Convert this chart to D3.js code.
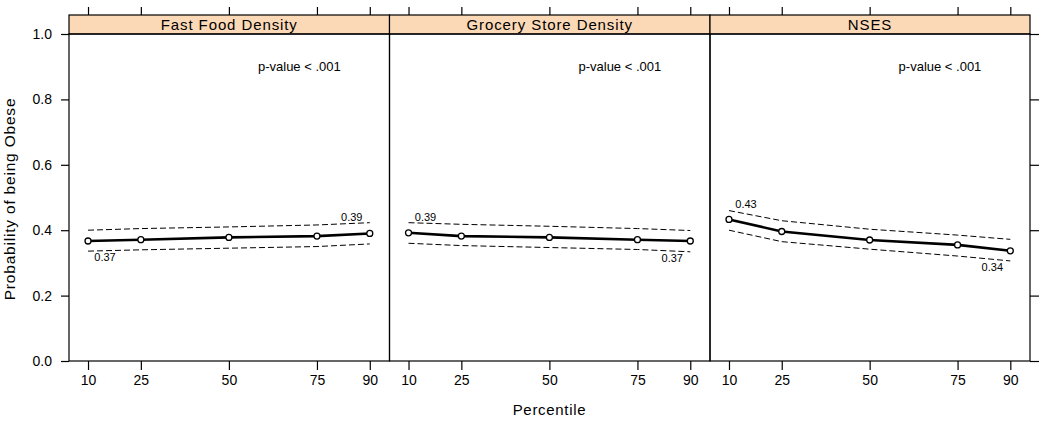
<!DOCTYPE html>
<html><head><meta charset="utf-8">
<script src="https://cdn.jsdelivr.net/npm/d3@7"></script>
<style>body{margin:0;background:#fff}svg{display:block;font-family:"Liberation Sans",Arial,sans-serif}</style>
</head><body>
<svg id="c" width="1050" height="422"></svg>
<script>
const panelNames = ["Fast Food Density", "Grocery Store Density", "NSES"];
const percentiles = [10, 25, 50, 75, 90];
const fastFoodFit   = [0.367, 0.371, 0.378, 0.382, 0.390];
const fastFoodUpper = [0.400, 0.405, 0.410, 0.416, 0.423];
const fastFoodLower = [0.336, 0.340, 0.345, 0.350, 0.358];
const groceryFit    = [0.392, 0.382, 0.378, 0.371, 0.367];
const groceryUpper  = [0.423, 0.418, 0.412, 0.405, 0.399];
const groceryLower  = [0.360, 0.353, 0.347, 0.341, 0.334];
const nsesFit       = [0.433, 0.396, 0.370, 0.355, 0.337];
const nsesUpper     = [0.460, 0.429, 0.403, 0.385, 0.372];
const nsesLower     = [0.400, 0.365, 0.342, 0.321, 0.306];
const startLabels = ["0.37", "0.39", "0.43"];
const endLabels   = ["0.39", "0.37", "0.34"];
const pValueText = "p-value <  .001";
const yTicks = [0, 0.2, 0.4, 0.6, 0.8, 1.0];
const yTickLabels = ["0.0", "0.2", "0.4", "0.6", "0.8", "1.0"];
const xTickLabels = ["10", "25", "50", "75", "90"];
const yTitle = "Probability of being Obese";
const xTitle = "Percentile";

const series = [
  {fit: fastFoodFit, up: fastFoodUpper, lo: fastFoodLower},
  {fit: groceryFit, up: groceryUpper, lo: groceryLower},
  {fit: nsesFit, up: nsesUpper, lo: nsesLower}
];

const svg = d3.select("#c");
const panelEdges = [69, 389.5, 710, 1030];
const stripTop = 15, plotTop = 34, plotBottom = 361;
const y = d3.scaleLinear().domain([0, 1]).range([plotBottom, plotTop]);

panelNames.forEach((name, i) => {
  const x0 = panelEdges[i], x1 = panelEdges[i + 1];
  const x = d3.scaleLinear().domain([4.6, 95.6]).range([x0, x1]);
  const g = svg.append("g");
  const s = series[i];

  // strip
  g.append("rect").attr("x", x0).attr("y", stripTop).attr("width", x1 - x0).attr("height", plotTop - stripTop)
    .attr("fill", "#fbd9b7").attr("stroke", "#000").attr("stroke-width", 1.2);
  g.append("text").attr("x", (x0 + x1) / 2).attr("y", 30).attr("text-anchor", "middle")
    .attr("font-size", 15).attr("letter-spacing", 0.9).text(name);

  // panel frame
  g.append("rect").attr("x", x0).attr("y", plotTop).attr("width", x1 - x0).attr("height", plotBottom - plotTop)
    .attr("fill", "none").attr("stroke", "#000").attr("stroke-width", 1.2);

  // bottom axis
  const bottom = d3.axisBottom(x).tickValues(percentiles).tickFormat((d, k) => xTickLabels[k]).tickSize(9).tickPadding(5);
  const ba = g.append("g").attr("transform", `translate(0,${plotBottom})`).call(bottom);
  ba.select(".domain").remove();
  ba.selectAll("line").attr("stroke-width", 1.2);
  ba.selectAll("text").attr("font-size", 14).attr("font-family", "Liberation Sans, Arial, sans-serif").attr("fill", "#000");

  // top ticks
  const top = d3.axisTop(x).tickValues(percentiles).tickFormat("").tickSize(8);
  const ta = g.append("g").attr("transform", `translate(0,${stripTop})`).call(top);
  ta.select(".domain").remove();
  ta.selectAll("line").attr("stroke-width", 1.2);

  // p-value
  g.append("text").attr("x", x(70)).attr("y", y(0.9)).attr("dy", "0.35em").attr("text-anchor", "middle")
    .attr("font-size", 13).text(pValueText);

  const pts = percentiles.map((p, k) => ({p, fit: s.fit[k], up: s.up[k], lo: s.lo[k]}));
  const lineOf = key => d3.line().x(d => x(d.p)).y(d => y(d[key]));

  ["up", "lo"].forEach(key => {
    g.append("path").datum(pts).attr("d", lineOf(key)).attr("fill", "none")
      .attr("stroke", "#000").attr("stroke-width", 1).attr("stroke-dasharray", "6,3");
  });
  g.append("path").datum(pts).attr("d", lineOf("fit")).attr("fill", "none")
    .attr("stroke", "#000").attr("stroke-width", 2.6);
  g.selectAll("circle.pt").data(pts).join("circle").attr("class", "pt")
    .attr("cx", d => x(d.p)).attr("cy", d => y(d.fit)).attr("r", 3)
    .attr("fill", "#fff").attr("stroke", "#000").attr("stroke-width", 1.3);

  // endpoint labels
  const first = pts[0], last = pts[pts.length - 1];
  const startHigher = first.fit > last.fit;
  const lbl = (d, txt, dx, above) => {
    g.append("text").attr("x", x(d.p) + dx).attr("y", above ? y(d.up) - 6 : y(d.lo) + 6)
      .attr("dy", "0.35em").attr("text-anchor", "middle").attr("font-size", 11).text(txt);
  };
  lbl(first, startLabels[i], 17, startHigher);
  lbl(last, endLabels[i], -18, !startHigher);
});

// left axis on first panel
const left = d3.axisLeft(y).tickValues(yTicks).tickFormat((d, k) => yTickLabels[k]).tickSize(8).tickPadding(9);
const la = svg.append("g").attr("transform", `translate(${panelEdges[0]},0)`).call(left);
la.select(".domain").remove();
la.selectAll("line").attr("stroke-width", 1.2);
la.selectAll("text").attr("font-size", 14).attr("font-family", "Liberation Sans, Arial, sans-serif").attr("fill", "#000");

// right ticks on last panel
const right = d3.axisRight(y).tickValues(yTicks).tickFormat("").tickSize(9);
const ra = svg.append("g").attr("transform", `translate(${panelEdges[3]},0)`).call(right);
ra.select(".domain").remove();
ra.selectAll("line").attr("stroke-width", 1.2);

// titles
svg.append("text").attr("transform", `translate(15,199) rotate(-90)`)
  .attr("text-anchor", "middle").attr("font-size", 15.5).attr("letter-spacing", 0.8).text(yTitle);
svg.append("text").attr("x", (panelEdges[0] + panelEdges[3]) / 2).attr("y", 415).attr("text-anchor", "middle")
  .attr("font-size", 15).attr("letter-spacing", 0.7).text(xTitle);
</script>
</body></html>
